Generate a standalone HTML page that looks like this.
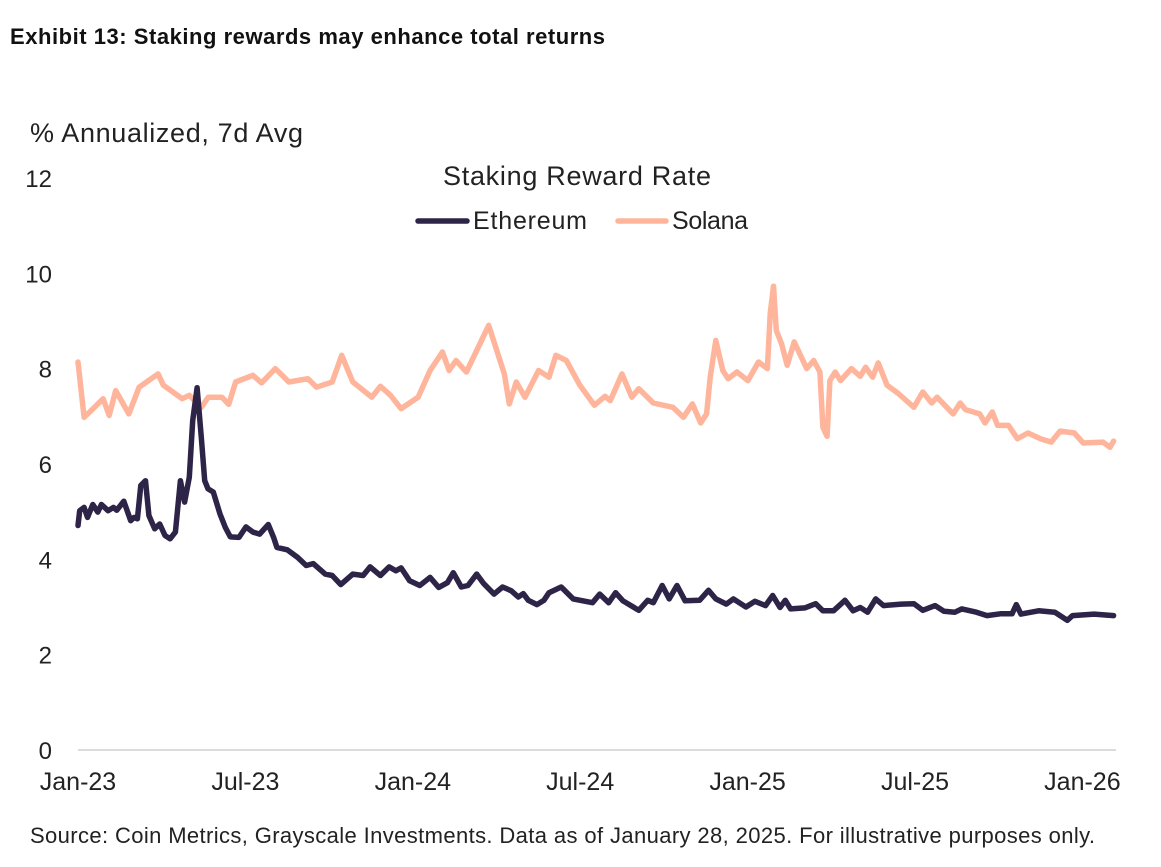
<!DOCTYPE html>
<html><head><meta charset="utf-8"><style>
body{margin:0;background:#fff;width:1161px;height:867px;overflow:hidden;font-family:"Liberation Sans",sans-serif;}
svg{display:block}
</style></head><body>
<svg id="chart" width="1161" height="867">
<text x="10" y="44" font-size="22" font-weight="bold" fill="#111" textLength="595">Exhibit 13: Staking rewards may enhance total returns</text>
<text x="30" y="142" font-size="27" fill="#222" textLength="273">% Annualized, 7d Avg</text>
<text x="443" y="185" font-size="27" fill="#222" textLength="268">Staking Reward Rate</text>
<g>
<g><line x1="418" y1="221" x2="467" y2="221" stroke="#2d2448" stroke-width="5.5" stroke-linecap="round"/><text x="473" y="229" font-size="25" fill="#222" textLength="114">Ethereum</text></g>
<g><line x1="618" y1="221" x2="666" y2="221" stroke="#ffb59b" stroke-width="5.5" stroke-linecap="round"/><text x="672" y="229" font-size="25" fill="#222" textLength="76">Solana</text></g>
</g>
<line x1="78" y1="750" x2="1116" y2="750" stroke="#d0d0d0" stroke-width="1.5"/>
<g id="yticks"></g>
<g id="xticks"></g>
<g id="series"></g>
<text x="30" y="843" font-size="22" fill="#222" textLength="1065">Source: Coin Metrics, Grayscale Investments. Data as of January 28, 2025. For illustrative purposes only.</text>
</svg>
<script>
const yTicks=[0,2,4,6,8,10,12];
const xTickLabels=["Jan-23","Jul-23","Jan-24","Jul-24","Jan-25","Jul-25","Jan-26"];
const xTickMonths=[0,6,12,18,24,30,36];
const solMonths=[0,.22,.59,.90,1.12,1.35,1.82,2.19,2.87,3.06,3.74,3.99,4.42,4.67,5.16,5.40,5.65,6.27,6.58,7.07,7.56,8.24,8.55,9.11,9.45,9.85,10.53,10.84,11.20,11.58,12.19,12.62,13.06,13.30,13.55,13.92,14.29,14.72,14.97,15.28,15.46,15.71,16.02,16.51,16.88,17.13,17.50,17.99,18.51,18.89,19.08,19.50,19.85,20.10,20.62,21.32,21.70,22.02,22.32,22.53,22.66,22.86,23.11,23.30,23.62,24.01,24.39,24.71,24.81,24.93,25.03,25.22,25.42,25.67,26.12,26.37,26.59,26.70,26.85,26.95,27.14,27.33,27.72,28.04,28.23,28.48,28.68,29.00,29.38,29.96,30.28,30.60,30.79,31.37,31.62,31.81,32.32,32.51,32.77,32.96,33.35,33.67,34.05,34.50,34.88,35.20,35.71,36.03,36.74,36.99,37.12];
const solValues=[8.14,6.98,7.19,7.37,7.02,7.54,7.05,7.61,7.89,7.65,7.37,7.44,7.19,7.40,7.40,7.25,7.72,7.86,7.70,8.00,7.72,7.79,7.61,7.72,8.28,7.72,7.40,7.63,7.44,7.16,7.40,7.96,8.35,7.96,8.17,7.93,8.38,8.91,8.45,7.89,7.26,7.72,7.40,7.96,7.82,8.28,8.17,7.65,7.23,7.42,7.33,7.89,7.40,7.58,7.28,7.19,6.98,7.26,6.86,7.05,7.82,8.59,7.96,7.79,7.93,7.75,8.14,8.00,9.15,9.73,8.80,8.52,8.07,8.56,8.00,8.17,7.93,6.77,6.58,7.75,7.93,7.75,8.00,7.84,8.03,7.82,8.12,7.65,7.49,7.19,7.51,7.28,7.40,7.05,7.28,7.14,7.05,6.86,7.09,6.81,6.81,6.53,6.65,6.53,6.46,6.69,6.65,6.44,6.46,6.35,6.48];
const ethMonths=[0,.06,.22,.34,.53,.71,.84,1.08,1.27,1.39,1.64,1.89,2.01,2.13,2.25,2.42,2.54,2.75,2.93,3.12,3.30,3.49,3.67,3.82,3.99,4.11,4.27,4.42,4.54,4.66,4.85,5.09,5.28,5.46,5.77,6.02,6.27,6.51,6.82,7.01,7.13,7.50,7.87,8.18,8.43,8.86,9.11,9.42,9.85,10.22,10.47,10.84,11.15,11.39,11.58,11.89,12.25,12.62,12.93,13.24,13.45,13.74,13.98,14.29,14.54,14.91,15.22,15.53,15.78,15.96,16.14,16.45,16.70,16.88,17.32,17.75,18.0,18.44,18.70,19.02,19.27,19.53,20.10,20.42,20.62,20.94,21.19,21.47,21.76,22.28,22.60,22.86,23.24,23.49,23.94,24.26,24.64,24.90,25.16,25.35,25.54,26.05,26.44,26.70,27.08,27.49,27.78,28.04,28.30,28.59,28.87,29.51,29.96,30.28,30.72,31.04,31.43,31.68,32.20,32.58,33.09,33.48,33.63,33.80,34.43,35.01,35.46,35.65,36.42,37.12];
const ethValues=[4.71,5.02,5.09,4.88,5.15,4.99,5.15,5.02,5.09,5.03,5.22,4.81,4.88,4.85,5.55,5.65,4.92,4.64,4.74,4.50,4.43,4.57,5.65,5.20,5.72,6.91,7.60,6.56,5.65,5.48,5.41,4.95,4.67,4.47,4.46,4.68,4.57,4.53,4.73,4.46,4.25,4.20,4.04,3.87,3.91,3.69,3.66,3.47,3.69,3.66,3.84,3.66,3.84,3.76,3.82,3.55,3.45,3.62,3.41,3.51,3.72,3.42,3.45,3.69,3.49,3.27,3.42,3.34,3.21,3.28,3.14,3.05,3.14,3.30,3.42,3.17,3.14,3.09,3.27,3.09,3.30,3.13,2.93,3.14,3.09,3.45,3.17,3.45,3.13,3.14,3.35,3.17,3.06,3.17,3.00,3.12,3.03,3.24,2.99,3.14,2.96,2.98,3.07,2.92,2.92,3.14,2.92,2.99,2.89,3.17,3.03,3.06,3.07,2.93,3.03,2.91,2.89,2.96,2.89,2.82,2.86,2.86,3.05,2.85,2.92,2.89,2.72,2.82,2.85,2.82];

const NS="http://www.w3.org/2000/svg";
function xScale(m){return 78+m*27.9;}
function yScale(v){return 750-v*47.67;}
const yg=document.getElementById('yticks');
yTicks.forEach(v=>{
  const t=document.createElementNS(NS,'text');
  
  
  t.setAttribute('x',52);t.setAttribute('y',yScale(v)+9);
  t.setAttribute('text-anchor','end');t.setAttribute('font-size','24');t.setAttribute('fill','#222');
  t.textContent=v;yg.appendChild(t);
});
const xg=document.getElementById('xticks');
xTickLabels.forEach((lab,i)=>{
  const t=document.createElementNS(NS,'text');
  
  
  t.setAttribute('x',xScale(xTickMonths[i]));t.setAttribute('y',790);
  t.setAttribute('text-anchor','middle');t.setAttribute('font-size','25');t.setAttribute('fill','#222');
  t.textContent=lab;xg.appendChild(t);
});
const sg=document.getElementById('series');
function drawLine(ms,vs,color,name){
  const p=document.createElementNS(NS,'path');
  
  
  p.setAttribute('d',ms.map((m,i)=>(i?'L':'M')+xScale(m).toFixed(1)+' '+yScale(vs[i]).toFixed(1)).join(' '));
  p.setAttribute('fill','none');p.setAttribute('stroke',color);p.setAttribute('stroke-width','5.5');
  p.setAttribute('stroke-linejoin','round');p.setAttribute('stroke-linecap','round');
  sg.appendChild(p);
}
drawLine(solMonths,solValues,'#ffb59b','solana-line');
drawLine(ethMonths,ethValues,'#2d2448','ethereum-line');
</script>
</body></html>
